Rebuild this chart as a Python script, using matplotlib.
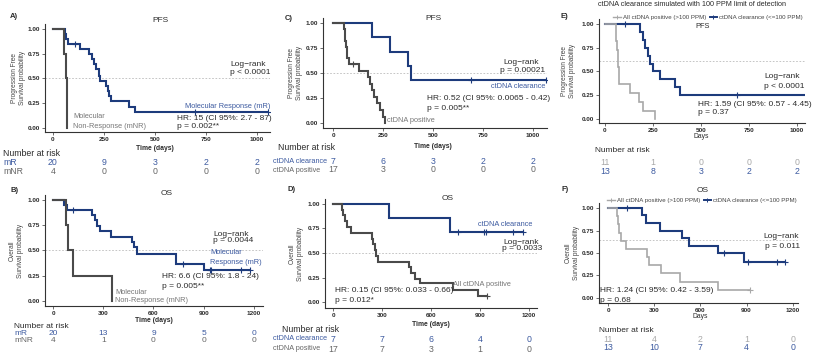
import matplotlib
matplotlib.use("Agg")
import matplotlib.pyplot as plt
import matplotlib.transforms as mtransforms
from matplotlib.lines import Line2D
import numpy as np

plt.rcParams['font.family'] = ['Liberation Sans', 'DejaVu Sans']

W, H = 813, 355
BLUE = '#1d3b7c'
BLUE_TXT = '#3c5aa0'
DGRAY = '#4a4a4a'
LGRAY = '#a8a8a8'
TXT = '#2b2b2b'

# ---- data (days, survival) ----
# A) PFS, molecular response
a_mr_t = [58, 65, 75, 135, 178, 190, 200, 212, 225, 232, 262, 268, 276, 285, 375, 400]
a_mr_s = [0.95, 0.90, 0.85, 0.80, 0.75, 0.70, 0.65, 0.60, 0.53, 0.47, 0.42, 0.37, 0.32, 0.27, 0.21, 0.16]
a_mr_c = [108, 695, 1055]
a_mnr_t = [54, 66, 68, 70]
a_mnr_s = [0.75, 0.50, 0.25, 0.0]
a_risk_mr = [20, 9, 3, 2, 2]
a_risk_mnr = [4, 0, 0, 0, 0]

# B) OS, molecular response
b_mr_t = [65, 81, 232, 248, 262, 278, 349, 473, 483, 503, 735, 900]
b_mr_s = [0.95, 0.90, 0.85, 0.80, 0.74, 0.69, 0.63, 0.58, 0.53, 0.47, 0.37, 0.31]
b_mr_c = [121, 775, 935, 945, 1120, 1175]
b_mnr_t = [78, 88, 121, 350]
b_mnr_s = [0.75, 0.50, 0.25, 0.0]
b_risk_mr = [20, 13, 9, 5, 0]
b_risk_mnr = [4, 1, 0, 0, 0]

# C) PFS, ctDNA clearance
c_clr_t = [193, 285, 377, 388]
c_clr_s = [0.857, 0.714, 0.571, 0.429]
c_clr_c = [688, 1065]
c_pos_t = [55, 58, 62, 65, 68, 72, 78, 131, 177, 187, 197, 207, 220, 235, 252, 260]
c_pos_s = [0.941, 0.882, 0.824, 0.765, 0.706, 0.647, 0.588, 0.523, 0.458, 0.392,
           0.327, 0.261, 0.196, 0.131, 0.065, 0.0]
c_pos_c = [100]
c_risk_clr = [7, 6, 3, 2, 2]
c_risk_pos = [17, 3, 0, 0, 0]

# D) OS, ctDNA clearance
d_clr_t = [345, 716]
d_clr_s = [0.857, 0.714]
d_clr_c = [767, 925, 935, 1104, 1165]
d_pos_t = [53, 62, 72, 85, 112, 237, 247, 257, 265, 275, 467, 480, 500, 533, 737, 890]
d_pos_s = [0.941, 0.882, 0.824, 0.765, 0.706, 0.647, 0.588, 0.529, 0.471, 0.412,
           0.353, 0.294, 0.235, 0.19, 0.127, 0.063]
d_pos_c = [940]
d_risk_clr = [7, 7, 6, 4, 0]
d_risk_pos = [17, 7, 3, 1, 0]

# E) PFS, 100 PPM simulation
e_clr_t = [184, 198, 210, 222, 235, 248, 287, 365, 391]
e_clr_s = [0.917, 0.833, 0.75, 0.667, 0.583, 0.5, 0.417, 0.333, 0.25]
e_clr_c = [102, 690]
e_pos_t = [56, 60, 63, 66, 68, 71, 74, 131, 175, 196, 263]
e_pos_s = [0.909, 0.818, 0.727, 0.636, 0.545, 0.455, 0.364, 0.273, 0.182, 0.091, 0.0]
e_risk_pos = [11, 1, 0, 0, 0]
e_risk_clr = [13, 8, 3, 2, 2]

# F) OS, 100 PPM simulation
f_clr_t = [223, 249, 336, 481, 524, 715, 884]
f_clr_s = [0.917, 0.833, 0.75, 0.667, 0.583, 0.5, 0.4]
f_clr_c = [119, 754, 910, 1100, 1150]
f_pos_t = [55, 62, 70, 83, 113, 250, 264, 342, 466, 715]
f_pos_s = [0.909, 0.818, 0.727, 0.636, 0.545, 0.455, 0.364, 0.273, 0.182, 0.091]
f_pos_c = [921]
f_risk_pos = [11, 4, 2, 1, 0]
f_risk_clr = [13, 10, 7, 4, 0]

pfs_ticks = [0, 250, 500, 750, 1000]
os_ticks = [0, 300, 600, 900, 1200]

fig = plt.figure(figsize=(W / 100, H / 100), dpi=100)
fig.patch.set_facecolor('w')


def T(x, y, s, **kw):
    kw.setdefault('fontsize', 5.5)
    kw.setdefault('color', TXT)
    kw.setdefault('ha', 'left')
    kw.setdefault('va', 'center')
    fig.text(x / W, 1 - y / H, s, **kw)


def panel(rect, xlim, ylim, xticks, ylabel, ylab_x, xlabel, xlab_y, bold_xlab=True, dash=0.5):
    l, t, r, b = rect
    ax = fig.add_axes([l / W, 1 - b / H, (r - l) / W, (b - t) / H])
    ax.set_xlim(xlim)
    ax.set_ylim(ylim)
    ax.set_xticks(xticks)
    ax.set_yticks([0, 0.25, 0.5, 0.75, 1.0])
    ax.set_yticklabels(['0.00', '0.25', '0.50', '0.75', '1.00'])
    for sp in ['top', 'right']:
        ax.spines[sp].set_visible(False)
    for sp in ['left', 'bottom']:
        ax.spines[sp].set_color('#333333')
        ax.spines[sp].set_linewidth(0.8)
    ax.tick_params(direction='out', length=2, width=0.6, color='#555555',
                   labelsize=4.6, labelcolor=TXT, pad=1.5)
    for lab in ax.get_xticklabels() + ax.get_yticklabels():
        lab.set_fontweight('bold')
    ax.axhline(dash, color='#bbbbbb', lw=0.6, ls=(0, (2, 2)), zorder=0)
    ax.patch.set_alpha(0)
    T(ylab_x, (t + b) / 2, ylabel, fontsize=4.7, rotation=90, ha='center',
      multialignment='center', color='#444444')
    T((ax.transData.transform((np.mean(xticks), 0))[0]), xlab_y, xlabel, ha='center',
      fontsize=4.9, fontweight='bold' if bold_xlab else 'normal')
    return ax


def km(ax, t, s, cens, end, color, lw=1.5):
    x = [0] + list(t) + [end]
    y = [1.0] + list(s) + [s[-1]]
    ax.step(x, y, where='post', color=color, lw=lw, solid_joinstyle='miter')
    if cens:
        full = [1.0] + list(s)
        cy = [full[np.searchsorted(t, c, side='right')] for c in cens]
        ax.plot(cens, cy, ls='none', marker='+', ms=4, mew=0.8, color=color)


def risk(ax, y_px, ticks, vals, color, size=6.3):
    tr = mtransforms.blended_transform_factory(ax.transData, fig.transFigure)
    for x, v in zip(ticks, vals):
        ax.text(x, 1 - y_px / H, str(v), transform=tr, ha='center', va='center',
                fontsize=size, color=color, clip_on=False)


# ---------------- A ----------------
axA = panel((45, 24, 270, 132), (-39, 1064), (-0.04, 1.05), pfs_ticks,
            'Progression Free\nSurvival probability', 19, 'Time (days)', 149)
km(axA, a_mr_t, a_mr_s, a_mr_c, 1055, BLUE)
km(axA, a_mnr_t, a_mnr_s, [], 70, DGRAY)
T(10, 16, 'A)', fontweight='bold', fontsize=5.5)
T(160, 20, 'PFS', ha='center', fontsize=6)
T(230, 64, 'Log\u2212rank', fontsize=6)
T(230, 72, 'p < 0.0001', fontsize=6)
T(270, 106, 'Molecular Response (mR)', ha='right', color=BLUE_TXT, fontsize=5.3)
T(177, 118, 'HR: 15 (CI 95%: 2.7 - 87)', fontsize=6)
T(177, 127, 'p = 0.002**', fontsize=6)
T(73, 117, 'Molecular', color='#777777', fontsize=5.3)
T(73, 126, 'Non-Response (mNR)', color='#777777', fontsize=5.3)
T(3, 153, 'Number at risk', fontsize=6.3)
T(3, 162, 'mR', color=BLUE_TXT, fontsize=6.3)
T(3, 172, 'mNR', color='#666666', fontsize=6.3)
risk(axA, 162, pfs_ticks, a_risk_mr, BLUE_TXT)
risk(axA, 172, pfs_ticks, a_risk_mnr, '#666666')

# ---------------- B ----------------
axB = panel((45, 195, 263, 306), (-48, 1254), (-0.05, 1.05), os_ticks,
            'Overall\nSurvival probability', 16, 'Time (days)', 321)
km(axB, b_mr_t, b_mr_s, b_mr_c, 1175, BLUE)
km(axB, b_mnr_t, b_mnr_s, [], 350, DGRAY)
T(10, 191, 'B)', fontweight='bold', fontsize=5.5)
T(167, 193, 'OS', ha='center', fontsize=6)
T(213, 234, 'Log\u2212rank', fontsize=6)
T(213, 241, 'p = 0.0044', fontsize=6)
T(210, 253, 'Molecular', color=BLUE_TXT, fontsize=5.3)
T(210, 262, 'Response (mR)', color=BLUE_TXT, fontsize=5.3)
T(162, 277, 'HR: 6.6 (CI 95%: 1.8 - 24)', fontsize=6)
T(162, 286, 'p = 0.005**', fontsize=6)
T(115, 292, 'Molecular', color='#777777', fontsize=5.3)
T(115, 300, 'Non-Response (mNR)', color='#777777', fontsize=5.3)
T(14, 326, 'Number at risk', fontsize=6)
T(14, 333.5, 'mR', color=BLUE_TXT, fontsize=6)
T(14, 341, 'mNR', color='#666666', fontsize=6)
risk(axB, 333.5, os_ticks, b_risk_mr, BLUE_TXT, size=6)
risk(axB, 341, os_ticks, b_risk_mnr, '#666666', size=6)

# ---------------- C ----------------
axC = panel((323, 18, 547, 128), (-50, 1070), (-0.05, 1.05), pfs_ticks,
            'Progression Free\nSurvival probability', 295, 'Time (days)', 146)
km(axC, c_clr_t, c_clr_s, c_clr_c, 1065, BLUE)
km(axC, c_pos_t, c_pos_s, c_pos_c, 260, DGRAY)
T(285, 18, 'C)', fontweight='bold', fontsize=5.5)
T(433, 18, 'PFS', ha='center', fontsize=6)
T(503, 63, 'Log\u2212rank', fontsize=6)
T(500, 70, 'p = 0.00021', fontsize=6)
T(545, 87, 'ctDNA clearance', ha='right', color=BLUE_TXT, fontsize=5.3)
T(427, 98, 'HR: 0.52 (CI 95%: 0.0065 - 0.42)', fontsize=6)
T(427, 108, 'p = 0.005**', fontsize=6)
T(387, 120, 'ctDNA positive', color='#777777', fontsize=5.3)
T(278, 148, 'Number at risk', fontsize=6.3)
T(273, 161, 'ctDNA clearance', color=BLUE_TXT, fontsize=5.2)
T(273, 170, 'ctDNA positive', color='#666666', fontsize=5.2)
risk(axC, 161, pfs_ticks, c_risk_clr, BLUE_TXT)
risk(axC, 170, pfs_ticks, c_risk_pos, '#666666')

# ---------------- D ----------------
axD = panel((325, 199, 537, 308), (-49, 1249), (-0.06, 1.05), os_ticks,
            'Overall\nSurvival probability', 296, 'Time (days)', 325)
km(axD, d_clr_t, d_clr_s, d_clr_c, 1165, BLUE)
km(axD, d_pos_t, d_pos_s, d_pos_c, 940, DGRAY)
T(287, 190, 'D)', fontweight='bold', fontsize=5.5)
T(448, 199, 'OS', ha='center', fontsize=6)
T(478, 224, 'ctDNA clearance', color=BLUE_TXT, fontsize=5.3)
T(503, 242, 'Log\u2212rank', fontsize=6)
T(502, 249, 'p = 0.0033', fontsize=6)
T(453, 284, 'All ctDNA positive', color='#777777', fontsize=5.3)
T(335, 291, 'HR: 0.15 (CI 95%: 0.033 - 0.66)', fontsize=6)
T(335, 301, 'p = 0.012*', fontsize=6)
T(282, 330, 'Number at risk', fontsize=6.3)
T(273, 339, 'ctDNA clearance', color=BLUE_TXT, fontsize=5.2)
T(273, 349, 'ctDNA positive', color='#666666', fontsize=5.2)
risk(axD, 339, os_ticks, d_risk_clr, BLUE_TXT)
risk(axD, 349, os_ticks, d_risk_pos, '#666666')

# ---------------- E ----------------
axE = panel((599, 19, 805, 123), (-31, 1043), (-0.04, 1.05), pfs_ticks,
            'Progression Free\nSurvival probability', 569, 'Days', 137,
            bold_xlab=False, dash=0.61)
km(axE, e_clr_t, e_clr_s, e_clr_c, 1060, BLUE)
km(axE, e_pos_t, e_pos_s, [], 263, LGRAY, lw=1.2)
T(692, 5, 'ctDNA clearance simulated with 100 PPM limit of detection', ha='center', fontsize=5.2)
T(560, 17, 'E)', fontweight='bold', fontsize=5.5)
T(703, 27, 'PFS', ha='center', fontsize=5.3)
T(764, 77, 'Log\u2212rank', fontsize=6)
T(764, 87, 'p < 0.0001', fontsize=6)
T(698, 104, 'HR: 1.59 (CI 95%: 0.57 - 4.45)', fontsize=6)
T(698, 113, 'p = 0.37', fontsize=6)
T(595, 150, 'Number at risk', fontsize=6)
risk(axE, 162, pfs_ticks, e_risk_pos, LGRAY)
risk(axE, 172, pfs_ticks, e_risk_clr, BLUE_TXT)

# ---------------- F ----------------
axF = panel((599, 203, 798, 303), (-60, 1235), (-0.056, 1.056), os_ticks,
            'Overall\nSurvival probability', 572, 'Days', 316,
            bold_xlab=False, dash=0.64)
km(axF, f_clr_t, f_clr_s, f_clr_c, 1150, BLUE)
km(axF, f_pos_t, f_pos_s, f_pos_c, 921, LGRAY, lw=1.2)
T(562, 190, 'F)', fontweight='bold', fontsize=5.5)
T(703, 191, 'OS', ha='center', fontsize=6)
T(763, 236, 'Log\u2212rank', fontsize=6)
T(765, 246, 'p = 0.011', fontsize=6)
T(600, 290, 'HR: 1.24 (CI 95%: 0.42 - 3.59)', fontsize=6)
T(600, 300, 'p = 0.68', fontsize=6)
T(599, 330, 'Number at risk', fontsize=6)
risk(axF, 339, os_ticks, f_risk_pos, LGRAY)
risk(axF, 348, os_ticks, f_risk_clr, BLUE_TXT)

# legends for E and F
handles = [Line2D([], [], color=LGRAY, lw=1.0, marker='+', ms=3.5, mew=0.7),
           Line2D([], [], color=BLUE, lw=1.4, marker='+', ms=3.5, mew=0.7)]
labels = ['All ctDNA positive (>100 PPM)', 'ctDNA clearance (<=100 PPM)']
for (lx, ly) in [(708, 17), (702, 200)]:
    fig.legend(handles, labels, loc='center', bbox_to_anchor=(lx / W, 1 - ly / H),
               ncol=2, fontsize=4.4, frameon=False, handlelength=1.2,
               handletextpad=0.3, columnspacing=0.6, borderpad=0, labelcolor='#444444')

fig.savefig('out.png', dpi=100)
